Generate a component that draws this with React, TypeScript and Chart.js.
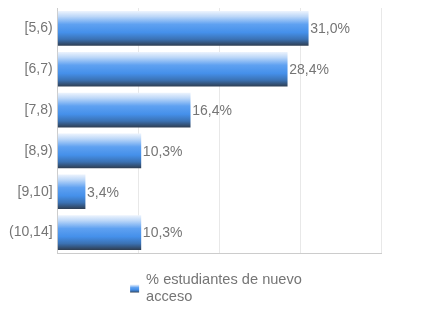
import React, { useEffect, useRef } from "react";
import { Chart, registerables } from "chart.js";

Chart.register(...registerables);

const categories = ["[5,6)", "[6,7)", "[7,8)", "[8,9)", "[9,10]", "(10,14]"];
const values = [31.0, 28.4, 16.4, 10.3, 3.4, 10.3];
const seriesName = ["% estudiantes de nuevo", "acceso"];
const xTicks = [0, 10, 20, 30, 40];

const TEXT = "#757575";
const FONT = "'Liberation Sans', Arial, sans-serif";

function barGradient(ctx: CanvasRenderingContext2D, top: number, bottom: number) {
  const g = ctx.createLinearGradient(0, top, 0, bottom);
  g.addColorStop(0, "#eaf2fd");
  g.addColorStop(0.15, "#bcd7f8");
  g.addColorStop(0.38, "#5fa1f1");
  g.addColorStop(0.62, "#4590ea");
  g.addColorStop(0.82, "#3b72b4");
  g.addColorStop(1, "#2f4056");
  return g;
}

export default function App() {
  const ref = useRef<HTMLCanvasElement | null>(null);
  useEffect(() => {
    document.body.style.margin = "0";
    const canvas = ref.current!;
    const valueLabels = {
      id: "valueLabels",
      afterDatasetsDraw(chart: any) {
        const ctx = chart.ctx;
        const meta = chart.getDatasetMeta(0);
        ctx.save();
        ctx.font = `14px ${FONT}`;
        ctx.fillStyle = TEXT;
        ctx.textAlign = "left";
        ctx.textBaseline = "middle";
        meta.data.forEach((bar: any, i: number) => {
          ctx.fillText(values[i].toFixed(1).replace(".", ",") + "%", bar.x + 2, bar.y + 1);
        });
        ctx.restore();
      },
    };
    const customLegend = {
      id: "customLegend",
      afterDraw(chart: any) {
        const ctx = chart.ctx;
        ctx.save();
        ctx.font = `14.6px ${FONT}`;
        const lineH = 17;
        const textW = Math.max(...seriesName.map((s) => ctx.measureText(s).width));
        const boxW = 9, boxH = 8, gap = 7;
        const total = boxW + gap + textW;
        const x0 = (chart.width - total) / 2;
        const firstLineY = chart.chartArea.bottom + 27;
        const centerY = firstLineY + ((seriesName.length - 1) * lineH) / 2;
        const top = centerY - boxH / 2;
        ctx.fillStyle = barGradient(ctx, top, top + boxH);
        ctx.fillRect(x0, top, boxW, boxH);
        ctx.fillStyle = TEXT;
        ctx.textAlign = "left";
        ctx.textBaseline = "middle";
        seriesName.forEach((s, i) => ctx.fillText(s, x0 + boxW + gap, firstLineY + i * lineH));
        ctx.restore();
      },
    };
    const chart = new Chart(canvas, {
      type: "bar",
      data: {
        labels: categories,
        datasets: [
          {
            label: seriesName.join(" "),
            data: values,
            backgroundColor: (c: any) => {
              const ch = c.chart;
              const ys = ch.scales && ch.scales.y;
              if (!ys || c.dataIndex === undefined) return "#4590ea";
              const center = ys.getPixelForValue(c.dataIndex);
              if (!isFinite(center)) return "#4590ea";
              return barGradient(ch.ctx, center - 17, center + 17);
            },
            borderWidth: 0,
            barThickness: 34,
          },
        ],
      },
      options: {
        indexAxis: "y",
        animation: false,
        responsive: true,
        maintainAspectRatio: false,
        layout: { padding: { left: 4, right: 51, top: 8, bottom: 71 } },
        scales: {
          x: {
            min: xTicks[0],
            max: xTicks[xTicks.length - 1],
            ticks: { display: false, stepSize: 10 },
            grid: { color: "#e8e8e8", drawTicks: false },
            border: { color: "#cccccc" },
          },
          y: {
            ticks: { color: TEXT, font: { size: 14, family: FONT }, padding: 5 },
            grid: { display: false, drawTicks: false },
            border: { color: "#cccccc" },
            afterFit: (scale: any) => {
              scale.paddingTop = 0;
              scale.paddingBottom = 0;
            },
          },
        },
        plugins: {
          tooltip: { enabled: false },
          legend: { display: false },
        },
      },
      plugins: [valueLabels, customLegend],
    });
    return () => chart.destroy();
  }, []);
  return (
    <div style={{ position: "absolute", left: 0, top: 0, width: 432, height: 324 }}>
      <canvas ref={ref} />
    </div>
  );
}
